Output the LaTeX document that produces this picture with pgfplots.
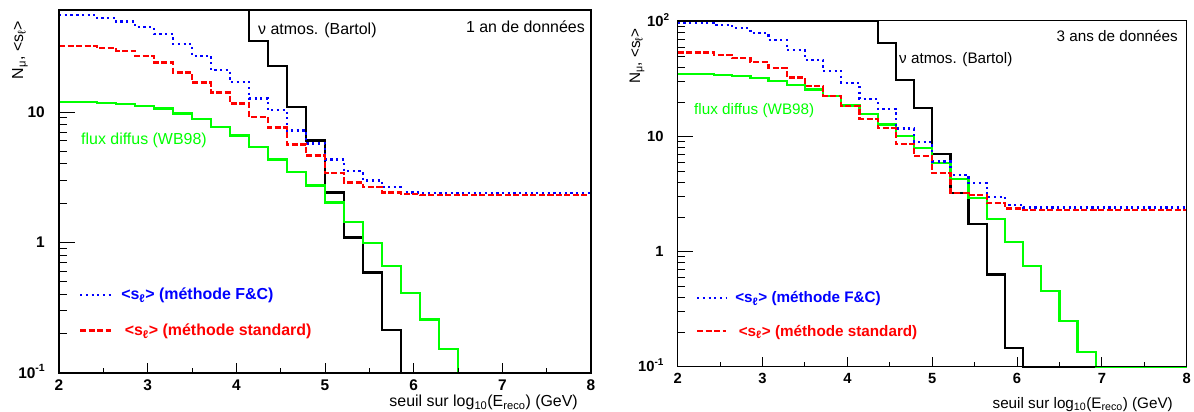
\documentclass[border=0pt]{standalone}
\usepackage{fontspec}
\setmainfont{Liberation Sans}
\usepackage{pgfplots}
\usepackage{pgfplotstable}
\pgfplotsset{compat=1.18}

\definecolor{rgreen}{RGB}{0,255,0}
\definecolor{rblue}{RGB}{0,0,255}
\definecolor{rred}{RGB}{255,0,0}

% 1 an de donnees (bin lower edges, last row = upper end at 8)
\pgfplotstableread{
x      black  green  red   blue
2.0000 60.5   11.98  32.2  55.7
2.2143 60.5   11.87  32.2  55.7
2.4286 60.5   11.73  30.9  52.6
2.6429 60.5   11.52  29.5  49.3
2.8571 60.5   11.12  27.0  44.6
3.0714 60.5   10.62  24.0  39.6
3.2857 60.5   9.72   20.1  33.2
3.5000 60.5   8.79   16.8  27.0
3.7143 60.5   7.67   14.1  20.9
3.9286 60.5   6.62   11.6  17.0
4.1429 35.2   5.38   9.15  12.7
4.3571 22.6   4.33   7.59  10.3
4.5714 10.9   3.48   5.64  7.23
4.7857 6.06   2.73   4.64  5.74
5.0000 2.42   2.03   3.42  4.33
5.2143 1.09   1.44   2.89  3.52
5.4286 0.59   0.99   2.65  2.98
5.6429 0.213  0.662  2.42  2.65
5.8571 0.1    0.412  2.36  2.42
6.0714 0.1    0.257  2.32  2.40
6.2857 0.1    0.152  2.32  2.40
6.5000 0.1    0.1    2.32  2.40
6.7143 0.1    0.1    2.32  2.40
6.9286 0.1    0.1    2.32  2.40
7.1429 0.1    0.1    2.32  2.40
7.3571 0.1    0.1    2.32  2.40
7.5714 0.1    0.1    2.32  2.40
7.7857 0.1    0.1    2.32  2.40
8.0000 0.1    0.1    2.32  2.40
}\lefttab

% 3 ans de donnees
\pgfplotstableread{
x      black  green  red   blue
2.0000 102    34.9   53.8  98.0
2.2143 102    34.9   53.8  98.0
2.4286 102    34.2   51.3  93.6
2.6429 102    33.5   48.1  87.6
2.8571 102    32.2   44.4  79.3
3.0714 102    30.5   39.4  69.3
3.2857 102    28.2   32.8  56.8
3.5000 102    25.8   27.6  46.5
3.7143 102    22.6   22.7  37.3
3.9286 102    18.7   18.5  29.5
4.1429 102    15.7   14.3  21.3
4.3571 65.6   12.8   11.9  17.5
4.5714 31.1   10.1   8.64  11.8
4.7857 17.7   8.02   6.79  9.05
5.0000 7.08   5.87   4.81  6.07
5.2143 3.26   4.27   3.26  4.65
5.4286 1.73   2.93   3.11  3.94
5.6429 0.635  1.92   2.64  3.01
5.8571 0.146  1.21   2.38  2.55
6.0714 0.1    0.755  2.31  2.42
6.2857 0.1    0.455  2.31  2.42
6.5000 0.1    0.251  2.31  2.42
6.7143 0.1    0.134  2.31  2.42
6.9286 0.1    0.1    2.31  2.42
7.1429 0.1    0.1    2.31  2.42
7.3571 0.1    0.1    2.31  2.42
7.5714 0.1    0.1    2.31  2.42
7.7857 0.1    0.1    2.31  2.42
8.0000 0.1    0.1    2.31  2.42
}\righttab

\begin{document}
\begin{tikzpicture}
\useasboundingbox (0,0) rectangle (1194bp,412bp);

% ---------------- left panel ----------------
\begin{axis}[
  ymode=log,
  scale only axis, xmin=2, xmax=8, clip=false, axis on top,
  at={(59bp,39bp)}, anchor=south west, width=532bp, height=363bp,
  ymin=0.1, ymax=60.5,
  axis line style={line width=1.1bp},
  tick align=inside, xtick pos=bottom, ytick pos=left,
  xtick={2,3,4,5,6,7,8}, minor x tick num=1,
  major tick length=12bp, minor tick length=6bp,
  x tick style={/pgfplots/major tick length=10bp, /pgfplots/minor tick length=5bp},
  y tick style={/pgfplots/major tick length=16bp, /pgfplots/minor tick length=8bp},
  tick style={black, line width=1bp},
  /pgf/number format/assume math mode=true,
  ytick={0.1,1,10},
  yticklabels={10\raisebox{6.5bp}[0pt][0pt]{\fontsize{10.5}{10}\selectfont -1}\hspace{-5bp}, 1, 10},
  ticklabel style={font=\bfseries\fontsize{15.5}{15.5}\selectfont},
  xticklabel style={inner sep=0pt, anchor=north, yshift=-7bp},
  yticklabel style={inner sep=0pt, anchor=east, xshift=-14bp},
  legend cell align=left,
  legend image code/.code={\draw[#1] (0bp,0bp) -- (31bp,0bp);},
  legend style={draw=none, fill=none, inner sep=0pt, outer sep=0pt,
    row sep=22.5bp, column sep=9bp, nodes={inner sep=0pt},
    font=\bfseries\fontsize{16}{19}\selectfont,
    at={(0.0376,0.2336)}, anchor=north west},
]
\addplot[black, line width=2.3bp, const plot mark left, forget plot] table[x=x, y=black] {\lefttab};
\addplot[rgreen, line width=2.3bp, const plot mark left, forget plot] table[x=x, y=green] {\lefttab};
\addplot[rblue, line width=2.3bp, dash pattern=on 2.2bp off 3.5bp, const plot mark left] table[x=x, y=blue] {\lefttab};
\addlegendentry{\textcolor{rblue}{<s\textsubscript{ℓ}> (méthode F\&C)}}
\addplot[rred, line width=2.3bp, dash pattern=on 6bp off 2.5bp, const plot mark left] table[x=x, y=red] {\lefttab};
\addlegendentry{\textcolor{rred}{\hspace{3.5bp}<s\textsubscript{ℓ}> (méthode standard)}}
\end{axis}

% ---------------- right panel ----------------
\begin{axis}[
  ymode=log,
  scale only axis, xmin=2, xmax=8, clip=false, axis on top,
  at={(677.7bp,45.3bp)}, anchor=south west, width=509bp, height=346bp,
  ymin=0.1, ymax=102,
  axis line style={line width=1.1bp},
  tick align=inside, xtick pos=bottom, ytick pos=left,
  xtick={2,3,4,5,6,7,8}, minor x tick num=1,
  major tick length=12bp, minor tick length=6bp,
  x tick style={/pgfplots/major tick length=10bp, /pgfplots/minor tick length=5bp},
  y tick style={/pgfplots/major tick length=15bp, /pgfplots/minor tick length=7.5bp},
  tick style={black, line width=1bp},
  /pgf/number format/assume math mode=true,
  ytick={0.1,1,10,100},
  yticklabels={10\raisebox{6.2bp}[0pt][0pt]{\fontsize{10}{10}\selectfont -1}\hspace{-5bp}, 1, 10, 10\rlap{\raisebox{6.2bp}[0pt][0pt]{\fontsize{10}{10}\selectfont 2}}},
  ticklabel style={font=\bfseries\fontsize{14.8}{14.8}\selectfont},
  xticklabel style={inner sep=0pt, anchor=north, yshift=-6.5bp},
  yticklabel style={inner sep=0pt, anchor=east, xshift=-14bp},
  legend cell align=left,
  legend image code/.code={\draw[#1] (0bp,0bp) -- (29bp,0bp);},
  legend style={draw=none, fill=none, inner sep=0pt, outer sep=0pt,
    row sep=20.5bp, column sep=8bp, nodes={inner sep=0pt},
    font=\bfseries\fontsize{15.3}{18}\selectfont,
    at={(0.036,0.2168)}, anchor=north west},
]
\addplot[black, line width=2.3bp, const plot mark left, forget plot] table[x=x, y=black] {\righttab};
\addplot[rgreen, line width=2.3bp, const plot mark left, forget plot] table[x=x, y=green] {\righttab};
\addplot[rblue, line width=2.3bp, dash pattern=on 2.2bp off 3.5bp, const plot mark left] table[x=x, y=blue] {\righttab};
\addlegendentry{\textcolor{rblue}{<s\textsubscript{ℓ}> (méthode F\&C)}}
\addplot[rred, line width=2.3bp, dash pattern=on 6bp off 2.5bp, const plot mark left] table[x=x, y=red] {\righttab};
\addlegendentry{\textcolor{rred}{\hspace{3.5bp}<s\textsubscript{ℓ}> (méthode standard)}}
\end{axis}

% ---------------- texts ----------------
\begin{scope}[every node/.style={inner sep=0pt, font=\fontsize{16}{19}\selectfont}]
\node[anchor=base west] at (258bp,377bp) {ν atmos. (Bartol)};
\node[anchor=base east] at (585bp,379.7bp) {1 an de données};
\node[anchor=base west, text=rgreen] at (81bp,267bp) {flux diffus (WB98)};
\node[rotate=90, anchor=east] at (20bp,391bp) {N\textsubscript{μ}, <s\textsubscript{ℓ}>};
\node[anchor=base east] at (578bp,5.5bp) {seuil sur log\textsubscript{10}(E\textsubscript{reco}) (GeV)};
\end{scope}
\begin{scope}[every node/.style={inner sep=0pt, font=\fontsize{15.3}{18}\selectfont}]
\node[anchor=base west] at (899bp,348.7bp) {ν atmos. (Bartol)};
\node[anchor=base east] at (1178bp,370.3bp) {3 ans de données};
\node[anchor=base west, text=rgreen] at (694bp,297bp) {flux diffus (WB98)};
\node[rotate=90, anchor=east] at (637bp,384bp) {N\textsubscript{μ}, <s\textsubscript{ℓ}>};
\node[anchor=base east] at (1173bp,4bp) {seuil sur log\textsubscript{10}(E\textsubscript{reco}) (GeV)};
\end{scope}
\end{tikzpicture}
\end{document}
